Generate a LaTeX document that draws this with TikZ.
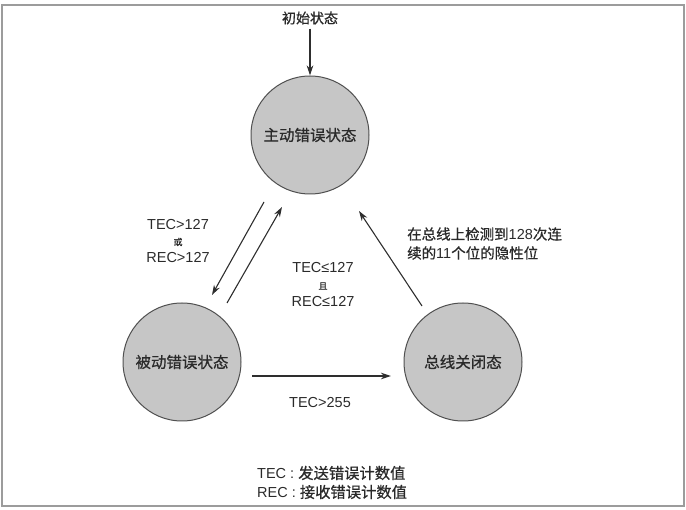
\documentclass[tikz,border=0pt]{standalone}
\usepackage{fontspec}
\setmainfont{Liberation Sans}
\newfontfamily\cjk{Noto Sans CJK SC}[FakeBold=0.7]
\usetikzlibrary{arrows.meta}
\definecolor{statefill}{HTML}{C6C6C6}
\definecolor{stategray}{HTML}{505050}
\definecolor{arrcol}{HTML}{2E2E2E}
\definecolor{txt}{HTML}{2A2A2A}
\definecolor{framegray}{HTML}{9C9C9C}
\begin{document}
\begin{tikzpicture}[x=1pt,y=-1pt,
  state/.style={circle,draw=stategray,fill=statefill,line width=1pt,minimum size=118pt,inner sep=0pt,font=\cjk\fontsize{15.5}{17}\selectfont,text=txt},
  arr/.style={draw=arrcol,line width=1.1pt,-{Stealth[length=10pt,width=6.5pt]}},
  lbl/.style={font=\fontsize{14.5}{17}\selectfont,text=txt,inner sep=0pt},
  cjklbl/.style={font=\cjk\fontsize{14}{16}\selectfont,text=txt,inner sep=0pt},
  small/.style={font=\cjk\fontsize{9}{10}\selectfont,text=txt,inner sep=0pt}]
\useasboundingbox (0,0) rectangle (686,510);
\draw[framegray,line width=2pt] (1.5,5) rectangle (683.5,506);

\node[state] (act) at (310,135) {主动错误状态};
\node[state] (pas) at (182,362) {被动错误状态};
\node[state] (off) at (463,362) {总线关闭态};

\node[cjklbl] (init) at (310,18) {初始状态};
\draw[arr,shorten <=4pt] (init) -- (act);

\coordinate (a2p) at (264,202);
\coordinate (a2pe) at (212,295);
\coordinate (p2a) at (227,303);
\coordinate (p2ae) at (282,207);
\coordinate (o2a) at (422,306);
\coordinate (o2ae) at (359,211);
\coordinate (p2o) at (252,376);
\coordinate (p2oe) at (391,376);

\draw[arr] (a2p) -- (a2pe);
\draw[arr] (p2a) -- (p2ae);
\draw[arr] (o2a) -- (o2ae);
\draw[arr] (p2o) -- (p2oe);

\node[lbl] (l1a) at (178,225) {TEC>127};
\node[small] (l1b) at (178,242) {或};
\node[lbl] (l1c) at (178,258) {REC>127};

\node[lbl] (l2a) at (323,268) {TEC≤127};
\node[small] (l2b) at (323,286) {且};
\node[lbl] (l2c) at (323,302) {REC≤127};

\node[lbl,anchor=west] (l3a) at (407,234) {{\cjk\fontsize{14.5}{17}\selectfont 在总线上检测到}128{\cjk\fontsize{14.5}{17}\selectfont 次连}};
\node[lbl,anchor=west] (l3b) at (407,253) {{\cjk\fontsize{14.5}{17}\selectfont 续的}11{\cjk\fontsize{14.5}{17}\selectfont 个位的隐性位}};

\node[lbl] (l4) at (320,403) {TEC>255};

\node[lbl,anchor=west] (lg1) at (257,473) {TEC : {\cjk\fontsize{15.3}{17}\selectfont 发送错误计数值}};
\node[lbl,anchor=west] (lg2) at (257,492) {REC : {\cjk\fontsize{15.3}{17}\selectfont 接收错误计数值}};
\end{tikzpicture}
\end{document}
